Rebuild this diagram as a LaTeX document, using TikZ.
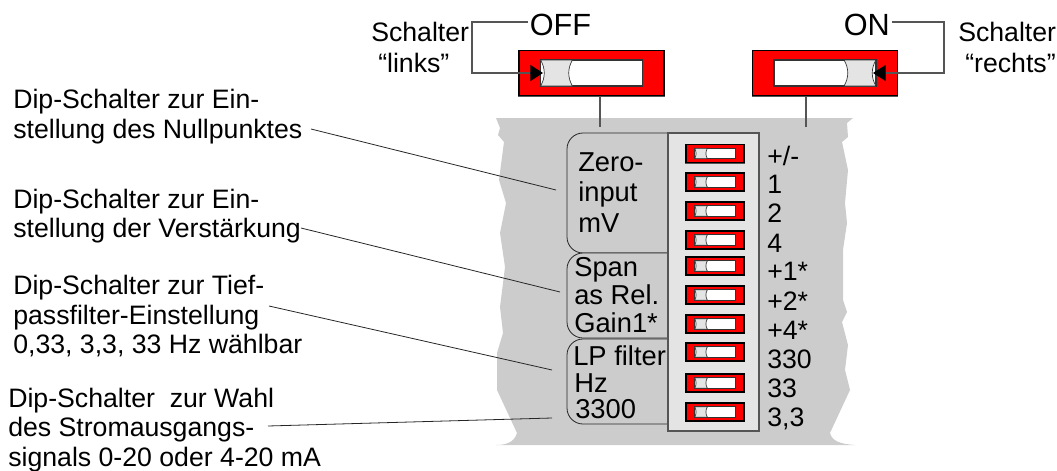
\documentclass[tikz,border=0pt]{standalone}
\usepackage{fontspec}
\setmainfont{Liberation Sans}
\usetikzlibrary{arrows.meta}
\definecolor{panelgray}{HTML}{CCCCCC}
\definecolor{slidergray}{HTML}{E4E4E4}
\definecolor{wiregray}{HTML}{555555}
\tikzset{
  wire/.style={draw=wiregray,line width=0.8pt},
  leader/.style={draw=black!85,line width=0.6pt},
  tab/.style={draw=black!85,fill=panelgray,line width=0.6pt,rounded corners=12pt},
  capt/.style={inner sep=0pt,anchor=north west,align=left,font=\fontsize{20}{22.2}\selectfont},
  lbl/.style={inner sep=0pt,anchor=base west,font=\fontsize{20}{23}\selectfont},
  tabtext/.style={inner sep=0pt,anchor=base west,font=\fontsize{20.5}{23}\selectfont},
  big/.style={inner sep=1.5pt,anchor=base west,font=\fontsize{23}{25}\selectfont},
  tipped/.style={-{Triangle[length=9.5pt,width=12pt,color=black,fill=black]}}
}
\newcommand{\tikzSwitchNode}[5]{
  \begin{scope}[shift={(#2)},scale=#3,xscale=#4,transform shape]
    \draw[wiregray,line width=1pt] (-72.5,-22) rectangle (72.5,23.5);
    \node[draw=black,line width=#5,fill=red,inner sep=0pt,minimum width=108.75pt,minimum height=33.75pt] (#1) at (0,0) {};
    \node[draw=black!80,line width=#5,fill=white,inner sep=0pt,minimum width=76.5pt,minimum height=19.5pt] (#1i) at (0,0) {};
    \draw[draw=black!80,fill=slidergray,line width=0.5pt] (-51,-13) .. controls (-46,-5) and (-46,5) .. (-51,13)
      -- (-19,13) .. controls (-24,5) and (-24,-5) .. (-19,-13) -- cycle;
  \end{scope}
}

\begin{document}
\begin{tikzpicture}[x=0.75pt,y=-0.75pt]
  \useasboundingbox (0,0) rectangle (1057,471);

  % torn housing
  \fill[panelgray] (496,118) -- (853,118) -- (847,123) -- (848,137) -- (842,142) -- (848,170) -- (845,203)
    -- (847,223) -- (843,250) -- (843,300) -- (847,312) -- (842,322) -- (848,345) -- (845,370) -- (850,390)
    -- (830,433) .. controls (832,441) and (840,444) .. (855,445) -- (496,445) .. controls (505,445) and (514,443) .. (517,433)
    -- (497,390) -- (497,353) -- (503,333) -- (500,307) -- (505,267) -- (500,233) -- (506,203) -- (499,180)
    -- (504,142) -- (498,135) -- (500,128) -- cycle;

  \draw[tab] (668,133) -- (567,133) -- (567,253) -- (668,253);
  \draw[tab] (668,253) -- (567,253) -- (567,338) -- (668,338);
  \draw[tab] (668,339) -- (567,339) -- (567,424) -- (668,424);
  \node [draw=wiregray,line width=0.8pt,fill=slidergray,inner sep=0pt,minimum width=68.25pt,minimum height=223.5pt] (panel) at (713.5,282) {};

  % big switches
  \tikzSwitchNode{swoff}{591.5,73}{1}{1}{0.9pt}
  \tikzSwitchNode{swon}{825,73}{1}{-1}{0.9pt}

  % dip switches
  \tikzSwitchNode{d1}{715,153.5}{0.4}{1}{0.8pt}
  \tikzSwitchNode{d2}{715,182}{0.4}{1}{0.8pt}
  \tikzSwitchNode{d3}{715,211}{0.4}{1}{0.8pt}
  \tikzSwitchNode{d4}{715,240}{0.4}{1}{0.8pt}
  \tikzSwitchNode{d5}{715,266}{0.4}{1}{0.8pt}
  \tikzSwitchNode{d6}{715,295}{0.4}{1}{0.8pt}
  \tikzSwitchNode{d7}{715,324}{0.4}{1}{0.8pt}
  \tikzSwitchNode{d8}{715,352}{0.4}{1}{0.8pt}
  \tikzSwitchNode{d9}{715,383}{0.4}{1}{0.8pt}
  \tikzSwitchNode{d10}{715,412}{0.4}{1}{0.8pt}

  \node [big] (off) at (527.5,35) {OFF};
  \node [big] (on) at (841.5,35) {ON};

  \node [lbl,align=left,anchor=north west] (sl) at (371,22) {Schalter\\\hspace{5.25pt}“links”};
  \node [lbl,align=left,anchor=north west] (sr) at (958,22) {Schalter\\\hspace{5.25pt}“rechts”};

  \coordinate (ola) at (472,22);
  \coordinate (olb) at (472,73);
  \coordinate (oltip) at (543,73);
  \coordinate (ora) at (944,22);
  \coordinate (orb) at (944,73);
  \coordinate (ortip) at (873,73);
  \draw[wire,tipped] (off.west |- ola) -- (ola) -- (olb) -- (oltip);
  \draw[wire,tipped] (on.east |- ora) -- (ora) -- (orb) -- (ortip);

  \coordinate (sa) at (600,127);
  \coordinate (sb) at (806,127);
  \path[wire] (sa |- swoff.south) edge (sa);
  \path[wire] (sb |- swon.south) edge (sb);

  % tab texts
  \node [tabtext] (z1) at (578,171) {Zero-};
  \node [tabtext] (z2) at (578,201) {input};
  \node [tabtext] (z3) at (578,232) {mV};
  \node [tabtext] (g1) at (574,276) {Span};
  \node [tabtext] (g2) at (574,304) {as Rel.};
  \node [tabtext] (g3) at (574,332) {Gain1*};
  \node [tabtext] (f1) at (573,365) {LP filter};
  \node [tabtext] (f2) at (574,392) {Hz};
  \node [tabtext] (f3) at (575,418) {3300};

  % values
  \node [lbl] (v1) at (767,165) {+/-};
  \node [lbl] (v2) at (767,193) {1};
  \node [lbl] (v3) at (767,222) {2};
  \node [lbl] (v4) at (767,252) {4};
  \node [lbl] (v5) at (767,280) {+1*};
  \node [lbl] (v6) at (767,310) {+2*};
  \node [lbl] (v7) at (767,339) {+4*};
  \node [lbl] (v8) at (767,368) {330};
  \node [lbl] (v9) at (767,397) {33};
  \node [lbl] (v10) at (767,426) {3,3};

  % captions
  \node [capt] (t1) at (13,89) {Dip-Schalter zur Ein-\\stellung des Nullpunktes};
  \node [capt] (t2) at (13,188.5) {Dip-Schalter zur Ein-\\stellung der Verstärkung};
  \node [capt] (t3) at (13,275) {Dip-Schalter zur Tief-\\passfilter-Einstellung\\0,33, 3,3, 33 Hz wählbar};
  \node [capt] (t4) at (8,387.5) {Dip-Schalter\ \ zur Wahl\\des Stromausgangs-\\signals 0-20 oder 4-20 mA};

  \coordinate (a1) at (311,129);
  \coordinate (b1) at (556,190);
  \coordinate (a2) at (301,228);
  \coordinate (b2) at (560,292);
  \coordinate (a3) at (269,306);
  \coordinate (b3) at (552,370);
  \coordinate (a4) at (268,426);
  \coordinate (b4) at (552,418);
  \path[leader] (a1) edge (b1);
  \path[leader] (a2) edge (b2);
  \path[leader] (a3) edge (b3);
  \path[leader] (a4) edge (b4);
\end{tikzpicture}
\end{document}
